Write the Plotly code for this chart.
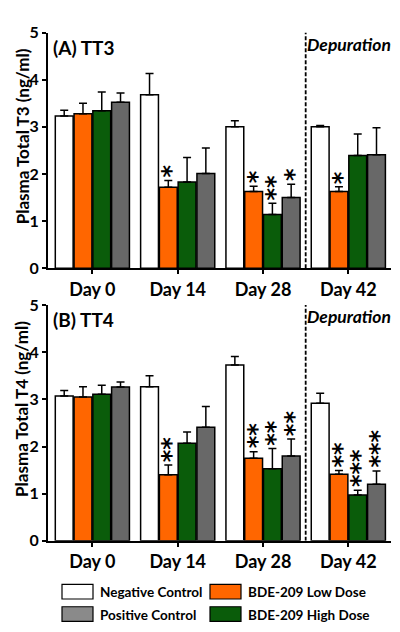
import plotly.graph_objects as go

days = ["Day 0", "Day 14", "Day 28", "Day 42"]
groups = ["Negative Control", "BDE-209 Low Dose", "BDE-209 High Dose", "Positive Control"]
colors = ["#ffffff", "#ff6600", "#0a5c0a", "#686868"]

# Panel A: TT3 (mean, upper error top)
tt3_mean = {
    "Negative Control": [3.23, 3.68, 3.00, 3.00],
    "BDE-209 Low Dose": [3.28, 1.72, 1.63, 1.63],
    "BDE-209 High Dose": [3.34, 1.83, 1.14, 2.39],
    "Positive Control": [3.52, 2.01, 1.50, 2.41],
}
tt3_top = {
    "Negative Control": [3.35, 4.13, 3.13, 3.03],
    "BDE-209 Low Dose": [3.50, 1.86, 1.74, 1.73],
    "BDE-209 High Dose": [3.74, 2.35, 1.38, 2.85],
    "Positive Control": [3.72, 2.55, 1.78, 2.98],
}
tt3_stars = {
    "Negative Control": [0, 0, 0, 0],
    "BDE-209 Low Dose": [0, 1, 1, 1],
    "BDE-209 High Dose": [0, 0, 2, 0],
    "Positive Control": [0, 0, 1, 0],
}

# Panel B: TT4
tt4_mean = {
    "Negative Control": [3.07, 3.27, 3.73, 2.92],
    "BDE-209 Low Dose": [3.05, 1.40, 1.75, 1.41],
    "BDE-209 High Dose": [3.11, 2.07, 1.53, 0.97],
    "Positive Control": [3.26, 2.41, 1.80, 1.20],
}
tt4_top = {
    "Negative Control": [3.19, 3.50, 3.91, 3.13],
    "BDE-209 Low Dose": [3.27, 1.61, 1.89, 1.49],
    "BDE-209 High Dose": [3.30, 2.31, 1.96, 1.07],
    "Positive Control": [3.37, 2.85, 2.16, 1.48],
}
tt4_stars = {
    "Negative Control": [0, 0, 0, 0],
    "BDE-209 Low Dose": [0, 2, 2, 2],
    "BDE-209 High Dose": [0, 0, 2, 3],
    "Positive Control": [0, 0, 2, 3],
}

y_ticks = [0, 1, 2, 3, 4, 5]
FONT = "Lato"
W, H = 400, 632

fig = go.Figure()
xpos = list(range(len(days)))
BARGAP = 0.12
slot = (1 - BARGAP) / len(groups)

panels = [
    ("x", "y", tt3_mean, tt3_top, tt3_stars),
    ("x2", "y2", tt4_mean, tt4_top, tt4_stars),
]
for xa, ya, means, tops, stars in panels:
    for gi, g in enumerate(groups):
        m = means[g]
        up = [t - v for t, v in zip(tops[g], m)]
        fig.add_trace(go.Bar(
            x=xpos, y=m, name=g, xaxis=xa, yaxis=ya, showlegend=False,
            marker=dict(color=colors[gi], line=dict(color="black", width=1.5)),
            error_y=dict(type="data", symmetric=False, array=up,
                         arrayminus=[0] * len(m), color="black",
                         thickness=1.5, width=4),
        ))
        for di in range(len(days)):
            n = stars[g][di]
            if n:
                fig.add_annotation(
                    x=di + (gi - 1.5) * slot, y=tops[g][di], xref=xa, yref=ya,
                    text="<b>" + "*" * n + "</b>", showarrow=False,
                    textangle=-90, yanchor="bottom", xanchor="center",
                    yshift=2, xshift=3, borderpad=0,
                    font=dict(family="DejaVu Sans", size=24, color="black"),
                )
    fig.add_shape(type="line", x0=2.5, x1=2.5, y0=0, y1=5, xref=xa, yref=ya,
                  line=dict(color="black", width=1.8, dash="4px,2px"))

dom_x = [40 / W, 383 / W]
fig.update_layout(
    width=W, height=H, margin=dict(l=0, r=0, t=0, b=0),
    paper_bgcolor="white", plot_bgcolor="white",
    barmode="group", bargap=BARGAP, bargroupgap=0.05,
    font=dict(family=FONT, color="black"),
)
axx = dict(range=[-0.52, 3.5], tickvals=xpos, ticktext=["<b>%s</b>" % d for d in days],
           showline=True, linecolor="black", linewidth=1.8, ticks="outside",
           ticklen=4, tickwidth=1.5, tickcolor="black", showgrid=False, zeroline=False,
           tickfont=dict(family=FONT, size=18, color="black"), domain=dom_x)
axy = dict(range=[0, 5], tickvals=y_ticks, ticktext=["<b>%d</b>" % t for t in y_ticks],
           showline=True, linecolor="black", linewidth=1.8, ticks="outside",
           ticklen=4, tickwidth=1.5, tickcolor="black", showgrid=False, zeroline=False,
           tickfont=dict(family=FONT, size=16, color="black"))
fig.update_layout(
    xaxis=dict(axx, anchor="y"),
    yaxis=dict(axy, domain=[1 - 258 / H, 1 - 15 / H], anchor="x"),
    xaxis2=dict(axx, anchor="y2"),
    yaxis2=dict(axy, domain=[1 - 539 / H, 1 - 296 / H], anchor="x2"),
)

# panel labels and titles
for ytop, lab, ttl, yc in [(15, "(A) TT3", "Plasma Total T3 (ng/ml)", 122),
                           (296, "(B) TT4", "Plasma Total T4 (ng/ml)", 403)]:
    fig.add_annotation(x=43 / W, y=1 - (ytop + 15) / H, xref="paper", yref="paper",
                       text="<b>%s</b>" % lab, showarrow=False, xanchor="left",
                       yanchor="middle", font=dict(family=FONT, size=19))
    fig.add_annotation(x=297 / W, y=1 - (ytop + 12) / H, xref="paper", yref="paper",
                       text="<b><i>Depuration</i></b>", showarrow=False, xanchor="left",
                       yanchor="middle", font=dict(family=FONT, size=17.5))
    fig.add_annotation(x=14 / W, y=1 - yc / H, xref="paper", yref="paper",
                       text="<b>%s</b>" % ttl, showarrow=False, textangle=-90,
                       xanchor="center", yanchor="middle", font=dict(family=FONT, size=17))

# legend
legend_items = [
    ("Negative Control", "#ffffff", 54, 584),
    ("BDE-209 Low Dose", "#ff6600", 202, 584),
    ("Positive Control", "#8a8a8a", 54, 607),
    ("BDE-209 High Dose", "#0a5c0a", 202, 607),
]
for name, col, lx, ly in legend_items:
    fig.add_shape(type="rect", xref="paper", yref="paper",
                  x0=lx / W, x1=(lx + 31) / W, y0=1 - (ly + 15) / H, y1=1 - ly / H,
                  fillcolor=col, line=dict(color="black", width=1.2))
    fig.add_annotation(x=(lx + 36) / W, y=1 - (ly + 8) / H, xref="paper", yref="paper",
                       text="<b>%s</b>" % name, showarrow=False, xanchor="left",
                       yanchor="middle", font=dict(family=FONT, size=13.5))

fig.write_html("out.html")
